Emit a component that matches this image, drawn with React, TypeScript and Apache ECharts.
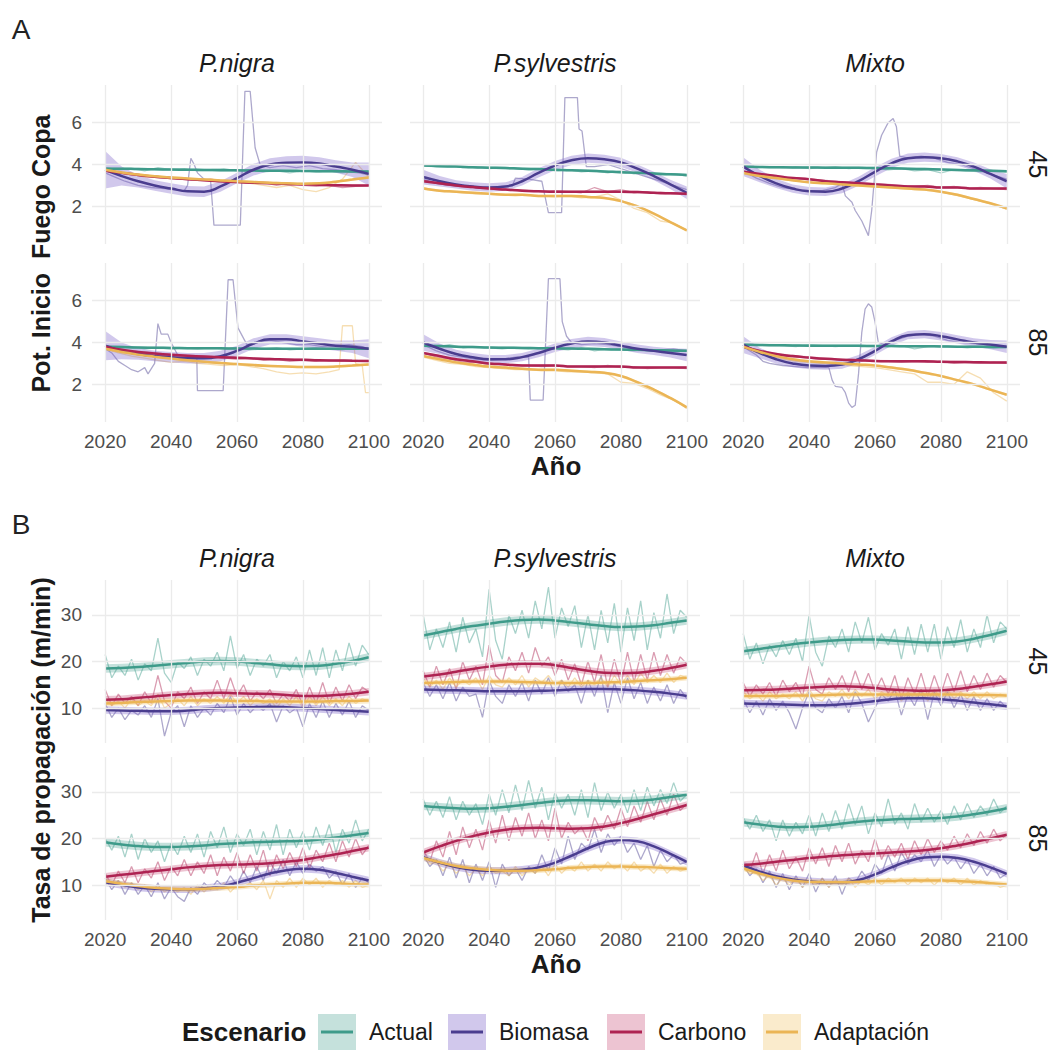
import React, { useEffect, useRef } from "react";
import * as echarts from "echarts";

const FONT = "'Liberation Sans', Arial, Helvetica, sans-serif";

const SCENARIOS = ["Actual", "Biomasa", "Carbono", "Adaptación"];
const SPECIES = ["P.nigra", "P.sylvestris", "Mixto"];
const RCP = ["45", "85"];
const LINE_COLORS = ["#3E9B8A", "#4A3D8F", "#AE2352", "#EBB555"];
const FILL_COLORS = ["rgba(62,155,138,0.3)", "rgba(122,98,201,0.35)", "rgba(194,58,106,0.3)", "rgba(240,192,96,0.32)"];

const YEARS_5 = [2020, 2025, 2030, 2035, 2040, 2045, 2050, 2055, 2060, 2065, 2070, 2075, 2080, 2085, 2090, 2095, 2100];
const YEARS_4 = [2020, 2024, 2028, 2032, 2036, 2040, 2044, 2048, 2052, 2056, 2060, 2064, 2068, 2072, 2076, 2080, 2084, 2088, 2092, 2096, 2100];
const YEARS_2 = [2020, 2022, 2024, 2026, 2028, 2030, 2032, 2034, 2036, 2038, 2040, 2042, 2044, 2046, 2048, 2050, 2052, 2054, 2056, 2058, 2060, 2062, 2064, 2066, 2068, 2070, 2072, 2074, 2076, 2078, 2080, 2082, 2084, 2086, 2088, 2090, 2092, 2094, 2096, 2098, 2100];
const X_TICKS = [2020, 2040, 2060, 2080, 2100];
const A_Y_TICKS = [2, 4, 6];
const B_Y_TICKS = [10, 20, 30];

// ---------- Section A : Pot. Inicio Fuego Copa ----------
// P.nigra 45
const a_ni45_raw_act = [3.85, 3.75, 3.8, 3.7, 3.85, 3.75, 3.8, 3.7, 3.75, 3.8, 3.7, 3.75, 3.65, 3.7, 3.6, 3.7, 3.65, 3.7, 3.6, 3.7, 3.65];
const a_ni45_raw_bio = [[2020, 3.6], [2023, 3.4], [2026, 3.2], [2030, 3.0], [2034, 2.9], [2038, 2.85], [2040, 2.8], [2044, 2.75], [2045, 3.0], [2046, 4.3], [2047, 4.0], [2048, 3.6], [2050, 3.3], [2052, 3.2], [2053, 1.1], [2061, 1.1], [2062.4, 7.5], [2064, 7.5], [2065.5, 4.8], [2067, 4.0], [2070, 3.85], [2074, 3.95], [2078, 3.85], [2082, 3.95], [2086, 3.8], [2090, 3.75], [2094, 3.65], [2097, 3.6], [2100, 3.5]];
const a_ni45_raw_car = [3.75, 3.6, 3.5, 3.45, 3.4, 3.35, 3.3, 3.25, 3.3, 3.2, 3.15, 3.1, 3.15, 3.0, 3.1, 3.0, 2.95, 3.0, 2.9, 2.95, 3.0];
const a_ni45_raw_ada = [3.8, 3.6, 3.55, 3.4, 3.45, 3.3, 3.35, 3.25, 3.3, 3.2, 3.15, 3.1, 3.0, 2.9, 3.0, 2.8, 2.7, 2.9, 3.3, 4.1, 3.4];
const a_ni45_sm_act = [3.8, 3.8, 3.78, 3.77, 3.76, 3.75, 3.74, 3.73, 3.72, 3.71, 3.7, 3.7, 3.69, 3.68, 3.68, 3.67, 3.67];
const a_ni45_sm_bio = [3.75, 3.45, 3.2, 3.0, 2.85, 2.72, 2.7, 2.95, 3.35, 3.75, 4.0, 4.08, 4.1, 4.05, 3.9, 3.75, 3.55];
const a_ni45_sm_car = [3.7, 3.6, 3.5, 3.42, 3.36, 3.3, 3.25, 3.2, 3.16, 3.13, 3.1, 3.07, 3.05, 3.03, 3.01, 3.0, 3.0];
const a_ni45_sm_ada = [3.75, 3.62, 3.52, 3.44, 3.38, 3.33, 3.28, 3.24, 3.2, 3.16, 3.13, 3.1, 3.08, 3.1, 3.18, 3.28, 3.38];
const a_ni45_se_bio = [0.9, 0.45, 0.3, 0.25, 0.25, 0.25, 0.25, 0.25, 0.25, 0.28, 0.3, 0.32, 0.32, 0.3, 0.3, 0.35, 0.55];

// P.sylvestris 45
const a_sy45_raw_act = [3.95, 3.9, 3.95, 3.85, 3.9, 3.8, 3.85, 3.8, 3.75, 3.8, 3.7, 3.75, 3.65, 3.7, 3.6, 3.7, 3.55, 3.6, 3.5, 3.55, 3.45];
const a_sy45_raw_bio = [[2020, 3.3], [2024, 3.1], [2028, 3.0], [2032, 2.95], [2036, 2.9], [2040, 2.9], [2044, 2.95], [2047, 2.95], [2048, 3.35], [2052, 3.3], [2056, 3.2], [2058, 1.7], [2062, 1.7], [2063, 7.2], [2066.8, 7.2], [2067.3, 5.7], [2068.2, 5.6], [2069.5, 3.9], [2072, 3.9], [2076, 4.0], [2080, 3.8], [2084, 3.6], [2088, 3.4], [2092, 3.2], [2096, 3.0], [2100, 2.8]];
const a_sy45_raw_car = [3.25, 3.1, 3.0, 2.95, 2.9, 2.85, 2.8, 2.8, 2.75, 2.7, 2.75, 2.7, 2.65, 2.9, 2.7, 2.8, 2.65, 2.7, 2.6, 2.65, 2.55];
const a_sy45_raw_ada = [2.9, 2.75, 2.7, 2.65, 2.6, 2.6, 2.55, 2.5, 2.55, 2.5, 2.45, 2.5, 2.4, 2.45, 2.6, 2.3, 1.9, 1.7, 1.3, 1.2, 0.85];
const a_sy45_sm_act = [3.95, 3.92, 3.9, 3.87, 3.85, 3.83, 3.8, 3.78, 3.75, 3.72, 3.7, 3.67, 3.63, 3.6, 3.57, 3.53, 3.5];
const a_sy45_sm_bio = [3.4, 3.2, 3.05, 2.95, 2.9, 2.95, 3.2, 3.6, 3.95, 4.2, 4.3, 4.25, 4.1, 3.8, 3.45, 3.05, 2.65];
const a_sy45_sm_car = [3.2, 3.1, 3.0, 2.92, 2.85, 2.8, 2.75, 2.72, 2.7, 2.7, 2.7, 2.7, 2.7, 2.68, 2.65, 2.62, 2.6];
const a_sy45_sm_ada = [2.85, 2.75, 2.7, 2.65, 2.6, 2.55, 2.55, 2.5, 2.5, 2.5, 2.45, 2.4, 2.25, 2.0, 1.65, 1.25, 0.85];
const a_sy45_se_bio = [0.35, 0.25, 0.2, 0.2, 0.2, 0.2, 0.2, 0.22, 0.22, 0.22, 0.22, 0.22, 0.22, 0.2, 0.2, 0.22, 0.3];

// Mixto 45
const a_mx45_raw_act = [3.9, 3.85, 3.9, 3.85, 3.9, 3.8, 3.85, 3.9, 3.8, 3.85, 3.8, 3.75, 3.8, 3.7, 3.75, 3.6, 3.75, 3.7, 3.65, 3.7, 3.65];
const a_mx45_raw_bio = [[2020, 3.7], [2024, 3.35], [2028, 3.1], [2032, 2.9], [2036, 2.8], [2040, 2.75], [2044, 2.75], [2048, 2.9], [2050, 3.1], [2051, 2.5], [2053, 2.2], [2054, 1.8], [2056, 1.3], [2058, 0.6], [2059, 1.8], [2060.5, 4.6], [2062, 5.4], [2064, 6.0], [2065.5, 6.2], [2066.5, 5.8], [2067.5, 4.4], [2070, 4.3], [2074, 4.4], [2078, 4.3], [2082, 4.1], [2086, 4.0], [2090, 3.8], [2094, 3.6], [2098, 3.4], [2100, 3.3]];
const a_mx45_raw_car = [3.7, 3.55, 3.5, 3.4, 3.35, 3.3, 3.25, 3.2, 3.15, 3.1, 3.1, 3.05, 3.0, 2.95, 3.0, 2.9, 2.95, 2.85, 2.9, 2.85, 2.8];
const a_mx45_raw_ada = [3.55, 3.45, 3.35, 3.3, 3.2, 3.15, 3.1, 3.05, 3.0, 3.0, 2.95, 2.9, 2.85, 2.8, 2.8, 2.7, 2.55, 2.4, 2.25, 2.1, 1.85];
const a_mx45_sm_act = [3.9, 3.88, 3.87, 3.86, 3.86, 3.85, 3.85, 3.84, 3.83, 3.82, 3.8, 3.78, 3.76, 3.74, 3.72, 3.7, 3.68];
const a_mx45_sm_bio = [3.9, 3.45, 3.1, 2.85, 2.72, 2.7, 2.85, 3.2, 3.65, 4.05, 4.3, 4.35, 4.3, 4.15, 3.9, 3.55, 3.2];
const a_mx45_sm_car = [3.65, 3.55, 3.45, 3.35, 3.3, 3.2, 3.15, 3.1, 3.05, 3.0, 2.95, 2.95, 2.9, 2.9, 2.85, 2.85, 2.85];
const a_mx45_sm_ada = [3.6, 3.45, 3.35, 3.25, 3.15, 3.1, 3.05, 3.0, 2.95, 2.9, 2.85, 2.8, 2.7, 2.55, 2.35, 2.15, 1.9];
const a_mx45_se_bio = [0.45, 0.3, 0.22, 0.2, 0.2, 0.2, 0.22, 0.22, 0.22, 0.22, 0.22, 0.22, 0.2, 0.2, 0.2, 0.22, 0.35];

// P.nigra 85
const a_ni85_raw_act = [3.85, 3.75, 3.8, 3.7, 3.75, 3.7, 3.75, 3.7, 3.75, 3.7, 3.75, 3.65, 3.7, 3.75, 3.65, 3.7, 3.75, 3.7, 3.65, 3.75, 3.7];
const a_ni85_raw_bio = [[2020, 3.7], [2022, 3.5], [2024, 3.1], [2026, 2.9], [2028, 2.7], [2030, 2.6], [2032, 2.8], [2033, 2.5], [2035, 3.0], [2036, 4.9], [2037, 4.4], [2039, 4.4], [2040, 4.0], [2042, 3.4], [2045, 3.35], [2047.8, 3.3], [2048, 1.7], [2055.8, 1.7], [2057.3, 7.0], [2058.8, 7.0], [2060.3, 4.7], [2063, 3.9], [2066, 4.0], [2070, 4.1], [2074, 4.0], [2078, 3.9], [2082, 3.9], [2086, 3.8], [2090, 3.85], [2094, 3.9], [2098, 3.8], [2100, 3.7]];
const a_ni85_raw_car = [3.8, 3.6, 3.5, 3.45, 3.4, 3.35, 3.35, 3.3, 3.3, 3.25, 3.2, 3.25, 3.15, 3.2, 3.1, 3.15, 3.1, 3.15, 3.1, 3.15, 3.1];
const a_ni85_raw_ada = [[2020, 3.7], [2024, 3.5], [2028, 3.35], [2032, 3.25], [2036, 3.15], [2040, 3.05], [2044, 3.1], [2048, 3.0], [2052, 2.95], [2056, 2.9], [2060, 2.95], [2064, 2.85], [2068, 2.75], [2072, 2.6], [2076, 2.5], [2080, 2.55], [2084, 2.5], [2088, 2.6], [2091, 2.7], [2092, 4.8], [2095, 4.8], [2096, 3.0], [2098, 2.9], [2099, 1.6], [2100, 1.6]];
const a_ni85_sm_act = [3.8, 3.78, 3.76, 3.75, 3.74, 3.73, 3.72, 3.72, 3.71, 3.71, 3.7, 3.7, 3.7, 3.7, 3.7, 3.7, 3.7];
const a_ni85_sm_bio = [3.85, 3.6, 3.45, 3.35, 3.3, 3.25, 3.25, 3.35, 3.6, 3.95, 4.15, 4.15, 4.05, 3.95, 3.85, 3.8, 3.7];
const a_ni85_sm_car = [3.8, 3.65, 3.55, 3.48, 3.42, 3.37, 3.33, 3.3, 3.27, 3.24, 3.21, 3.19, 3.17, 3.15, 3.14, 3.13, 3.12];
const a_ni85_sm_ada = [3.7, 3.55, 3.42, 3.32, 3.23, 3.15, 3.08, 3.02, 2.97, 2.92, 2.88, 2.85, 2.83, 2.83, 2.85, 2.9, 2.95];
const a_ni85_se_bio = [0.7, 0.4, 0.28, 0.25, 0.25, 0.25, 0.25, 0.25, 0.25, 0.25, 0.25, 0.25, 0.25, 0.25, 0.25, 0.3, 0.45];

// P.sylvestris 85
const a_sy85_raw_act = [3.85, 3.8, 3.9, 3.75, 3.8, 3.75, 3.7, 3.75, 3.7, 3.75, 3.7, 3.65, 3.75, 3.6, 3.7, 3.65, 3.6, 3.65, 3.6, 3.55, 3.6];
const a_sy85_raw_bio = [[2020, 3.9], [2024, 3.6], [2028, 3.4], [2032, 3.3], [2036, 3.2], [2040, 3.15], [2044, 3.2], [2048, 3.3], [2052, 3.3], [2052.5, 1.25], [2056.4, 1.25], [2058, 7.05], [2061.5, 7.05], [2062.2, 5.0], [2063.5, 4.3], [2065, 4.0], [2068, 3.9], [2072, 3.95], [2076, 3.9], [2080, 3.8], [2084, 3.7], [2088, 3.6], [2092, 3.65], [2096, 3.7], [2100, 3.6]];
const a_sy85_raw_car = [3.5, 3.3, 3.2, 3.05, 3.05, 2.95, 2.95, 2.9, 2.9, 2.85, 2.9, 2.85, 2.85, 2.8, 2.9, 2.8, 2.85, 2.75, 2.8, 2.8, 2.75];
const a_sy85_raw_ada = [3.3, 3.15, 3.0, 2.95, 2.85, 2.8, 2.75, 2.7, 2.7, 2.65, 2.65, 2.6, 2.6, 2.55, 2.5, 2.1, 2.05, 1.8, 1.5, 1.25, 0.85];
const a_sy85_sm_act = [3.85, 3.83, 3.8, 3.78, 3.76, 3.75, 3.74, 3.73, 3.72, 3.71, 3.7, 3.68, 3.66, 3.65, 3.63, 3.62, 3.6];
const a_sy85_sm_bio = [4.0, 3.7, 3.45, 3.3, 3.2, 3.2, 3.3, 3.5, 3.75, 3.95, 4.05, 4.0, 3.85, 3.7, 3.6, 3.5, 3.4];
const a_sy85_sm_car = [3.5, 3.35, 3.2, 3.1, 3.0, 2.95, 2.9, 2.9, 2.9, 2.85, 2.85, 2.85, 2.85, 2.8, 2.8, 2.8, 2.8];
const a_sy85_sm_ada = [3.35, 3.2, 3.05, 2.95, 2.85, 2.8, 2.75, 2.7, 2.7, 2.65, 2.6, 2.55, 2.4, 2.1, 1.75, 1.35, 0.9];
const a_sy85_se_bio = [0.4, 0.25, 0.2, 0.2, 0.2, 0.2, 0.2, 0.2, 0.2, 0.22, 0.22, 0.22, 0.2, 0.2, 0.2, 0.22, 0.3];

// Mixto 85
const a_mx85_raw_act = [3.9, 3.85, 3.9, 3.85, 3.8, 3.9, 3.85, 3.8, 3.85, 3.8, 3.85, 3.8, 3.85, 3.7, 3.8, 3.85, 3.8, 3.75, 3.8, 3.75, 3.8];
const a_mx85_raw_bio = [[2020, 3.8], [2024, 3.4], [2026, 3.1], [2028, 3.0], [2032, 2.9], [2036, 2.85], [2040, 2.8], [2044, 2.8], [2046, 2.8], [2047, 2.2], [2048, 1.9], [2050, 1.85], [2051, 1.6], [2052, 1.1], [2053, 0.9], [2054, 1.0], [2055, 2.5], [2056, 4.5], [2057, 5.6], [2058, 5.85], [2059, 5.7], [2060, 5.0], [2061, 4.0], [2063, 3.9], [2066, 4.1], [2070, 4.3], [2074, 4.4], [2078, 4.3], [2082, 4.1], [2086, 4.0], [2090, 3.95], [2094, 3.9], [2098, 3.85], [2100, 3.8]];
const a_mx85_raw_car = [3.8, 3.55, 3.45, 3.35, 3.3, 3.25, 3.2, 3.2, 3.15, 3.15, 3.1, 3.1, 3.05, 3.1, 3.05, 3.1, 3.0, 3.05, 3.0, 3.05, 3.0];
const a_mx85_raw_ada = [3.8, 3.5, 3.35, 3.2, 3.1, 3.05, 3.0, 2.95, 2.9, 2.85, 2.8, 2.7, 2.6, 2.5, 2.1, 2.1, 2.0, 2.6, 2.3, 1.6, 1.2];
const a_mx85_sm_act = [3.9, 3.88, 3.87, 3.86, 3.85, 3.85, 3.84, 3.84, 3.83, 3.83, 3.82, 3.82, 3.81, 3.8, 3.8, 3.79, 3.78];
const a_mx85_sm_bio = [3.9, 3.5, 3.2, 3.0, 2.9, 2.88, 2.95, 3.2, 3.6, 4.05, 4.35, 4.4, 4.3, 4.15, 4.0, 3.9, 3.8];
const a_mx85_sm_car = [3.8, 3.6, 3.45, 3.35, 3.28, 3.22, 3.18, 3.15, 3.12, 3.1, 3.1, 3.1, 3.08, 3.07, 3.06, 3.05, 3.05];
const a_mx85_sm_ada = [3.8, 3.55, 3.35, 3.2, 3.1, 3.05, 3.0, 2.95, 2.9, 2.8, 2.7, 2.55, 2.4, 2.2, 2.0, 1.75, 1.5];
const a_mx85_se_bio = [0.4, 0.25, 0.2, 0.18, 0.18, 0.18, 0.2, 0.2, 0.2, 0.2, 0.2, 0.2, 0.2, 0.2, 0.2, 0.22, 0.3];

const A_BAND = 0.06;

// ---------- Section B : Tasa de propagación ----------
// P.nigra 45
const b_ni45_raw_act = [21.5, 16.5, 19.0, 17.0, 20.5, 16.0, 19.5, 18.0, 25.0, 17.5, 15.5, 20.0, 18.5, 21.0, 17.0, 20.5, 19.0, 22.0, 18.0, 25.5, 18.5, 21.5, 17.0, 20.5, 19.0, 21.5, 16.5, 20.0, 18.0, 21.0, 16.5, 22.5, 17.0, 23.0, 16.5, 22.5, 18.0, 24.0, 19.0, 23.5, 21.5];
const b_ni45_raw_bio = [11.0, 8.0, 10.0, 7.5, 9.5, 8.5, 10.5, 8.0, 12.0, 4.0, 9.0, 10.5, 6.0, 10.5, 8.0, 10.0, 8.5, 11.0, 9.0, 12.5, 8.5, 11.0, 9.0, 10.5, 9.5, 11.0, 7.0, 10.5, 9.0, 10.0, 6.0, 11.0, 8.0, 11.5, 8.0, 11.0, 8.5, 11.5, 8.0, 10.5, 9.5];
const b_ni45_raw_car = [14.0, 10.5, 13.0, 11.0, 12.5, 10.5, 13.5, 11.0, 17.0, 11.5, 10.0, 13.5, 12.0, 14.5, 11.0, 13.5, 12.0, 16.0, 12.0, 16.5, 12.5, 15.0, 11.5, 13.5, 12.0, 14.0, 11.0, 13.0, 11.5, 14.0, 10.5, 14.5, 11.0, 15.5, 11.0, 14.5, 11.5, 15.0, 12.0, 14.5, 13.5];
const b_ni45_raw_ada = [12.0, 10.5, 11.5, 10.0, 12.0, 10.5, 11.5, 10.5, 13.0, 10.0, 11.0, 12.0, 10.5, 12.5, 10.5, 12.0, 11.0, 12.5, 11.0, 13.0, 11.0, 12.5, 10.5, 12.0, 11.0, 12.0, 10.0, 12.0, 10.5, 12.5, 10.0, 12.5, 10.5, 12.5, 10.5, 12.0, 10.5, 12.5, 11.0, 12.0, 11.5];
const b_ni45_sm_act = [18.5, 18.6, 18.8, 19.1, 19.4, 19.7, 20.0, 20.1, 20.0, 19.7, 19.4, 19.1, 19.0, 19.1, 19.5, 20.1, 20.9];
const b_ni45_sm_bio = [9.6, 9.5, 9.4, 9.3, 9.3, 9.5, 9.8, 10.0, 10.1, 10.2, 10.3, 10.2, 10.0, 9.8, 9.6, 9.4, 9.2];
const b_ni45_sm_car = [11.8, 11.9, 12.2, 12.5, 12.8, 13.0, 13.2, 13.3, 13.2, 13.1, 13.0, 12.8, 12.6, 12.6, 12.8, 13.1, 13.5];
const b_ni45_sm_ada = [11.0, 11.1, 11.3, 11.4, 11.5, 11.6, 11.6, 11.6, 11.5, 11.5, 11.4, 11.4, 11.4, 11.4, 11.5, 11.5, 11.6];

// P.sylvestris 45
const b_sy45_raw_act = [30.0, 22.5, 27.0, 23.0, 28.5, 22.0, 29.5, 24.0, 27.0, 21.0, 35.5, 24.5, 20.5, 30.0, 26.0, 31.0, 25.0, 33.0, 27.0, 36.0, 25.0, 31.5, 27.5, 32.0, 23.0, 30.0, 22.5, 31.0, 24.0, 32.5, 22.0, 31.5, 24.5, 33.0, 22.5, 30.5, 25.0, 34.5, 26.0, 31.0, 29.5];
const b_sy45_raw_bio = [15.5, 12.5, 15.0, 12.0, 15.5, 11.5, 14.5, 12.5, 13.0, 8.0, 16.0, 12.5, 11.0, 15.0, 12.5, 15.5, 11.5, 16.0, 13.0, 16.5, 12.5, 16.0, 13.5, 15.0, 11.0, 16.0, 12.5, 17.0, 9.0, 15.5, 11.0, 16.5, 12.0, 15.5, 11.0, 14.5, 11.5, 15.0, 11.0, 14.0, 12.0];
const b_sy45_raw_car = [18.0, 14.5, 19.0, 15.0, 18.5, 14.0, 20.0, 16.0, 19.0, 15.0, 23.5, 17.0, 15.5, 21.0, 18.0, 22.0, 17.5, 23.0, 19.0, 21.0, 17.0, 20.5, 16.0, 19.5, 15.0, 20.0, 15.5, 21.5, 14.5, 20.5, 15.0, 22.0, 15.5, 21.5, 16.0, 22.0, 17.0, 21.5, 17.5, 21.0, 19.5];
const b_sy45_raw_ada = [16.5, 14.5, 16.0, 14.0, 16.5, 14.5, 16.0, 15.0, 16.5, 14.0, 17.0, 15.0, 14.5, 16.5, 15.0, 17.0, 14.5, 16.5, 15.5, 17.0, 15.0, 16.0, 14.5, 16.5, 14.5, 16.0, 15.0, 16.5, 14.5, 17.0, 15.0, 17.0, 15.0, 17.5, 15.5, 17.0, 15.5, 17.5, 15.5, 17.0, 16.5];
const b_sy45_sm_act = [25.6, 26.3, 27.0, 27.6, 28.1, 28.6, 28.9, 29.0, 28.8, 28.4, 28.0, 27.6, 27.4, 27.5, 27.8, 28.3, 28.8];
const b_sy45_sm_bio = [14.0, 13.9, 13.8, 13.7, 13.6, 13.6, 13.6, 13.7, 13.8, 14.0, 14.1, 14.1, 14.0, 13.8, 13.5, 13.1, 12.6];
const b_sy45_sm_car = [16.8, 17.2, 17.8, 18.4, 18.9, 19.3, 19.5, 19.5, 19.2, 18.6, 18.0, 17.6, 17.5, 17.6, 18.0, 18.6, 19.3];
const b_sy45_sm_ada = [15.4, 15.5, 15.6, 15.7, 15.7, 15.7, 15.6, 15.5, 15.4, 15.4, 15.4, 15.5, 15.6, 15.8, 16.0, 16.2, 16.5];

// Mixto 45
const b_mx45_raw_act = [26.0, 20.5, 24.0, 19.5, 23.5, 21.0, 24.5, 21.5, 25.0, 20.0, 30.0, 22.0, 19.0, 25.5, 23.0, 27.0, 22.0, 28.5, 24.0, 29.5, 22.5, 26.0, 23.5, 27.0, 20.5, 27.5, 21.5, 28.0, 22.0, 28.0, 20.5, 27.5, 23.0, 29.0, 22.0, 27.0, 23.0, 30.0, 24.0, 28.5, 27.0];
const b_mx45_raw_bio = [12.0, 9.0, 11.5, 8.5, 12.0, 9.5, 11.5, 9.0, 5.5, 10.0, 13.5, 10.0, 9.0, 12.0, 10.0, 12.5, 9.0, 13.5, 11.0, 7.0, 10.0, 13.0, 11.5, 14.0, 8.5, 13.0, 10.5, 14.0, 7.5, 13.5, 10.5, 13.5, 10.0, 13.0, 9.5, 12.5, 9.5, 12.0, 9.5, 11.5, 10.0];
const b_mx45_raw_car = [15.5, 12.5, 15.0, 13.0, 15.5, 12.5, 16.0, 13.5, 15.5, 12.5, 19.0, 14.0, 13.0, 16.5, 14.0, 17.0, 13.5, 18.0, 14.0, 17.5, 13.5, 16.5, 13.0, 17.0, 12.0, 16.5, 13.0, 17.5, 12.5, 17.0, 13.0, 17.5, 13.5, 18.0, 13.5, 17.0, 14.0, 17.5, 14.5, 17.0, 15.5];
const b_mx45_raw_ada = [13.5, 12.0, 13.0, 11.5, 13.5, 12.0, 13.0, 12.0, 13.5, 11.5, 14.0, 12.0, 11.5, 13.5, 12.5, 14.0, 12.0, 14.0, 12.5, 14.0, 12.0, 13.5, 12.5, 14.0, 11.5, 13.5, 12.0, 14.0, 11.5, 14.0, 12.0, 14.0, 12.0, 13.5, 12.0, 13.5, 12.0, 13.5, 12.0, 13.0, 12.5];
const b_mx45_sm_act = [22.2, 22.7, 23.2, 23.7, 24.1, 24.4, 24.6, 24.7, 24.7, 24.5, 24.3, 24.1, 24.1, 24.3, 24.9, 25.7, 26.6];
const b_mx45_sm_bio = [11.0, 10.9, 10.8, 10.7, 10.6, 10.6, 10.8, 11.1, 11.5, 11.9, 12.1, 12.1, 11.9, 11.6, 11.2, 10.8, 10.4];
const b_mx45_sm_car = [13.8, 13.9, 14.0, 14.2, 14.4, 14.6, 14.7, 14.6, 14.3, 14.0, 13.8, 13.7, 13.8, 14.1, 14.6, 15.1, 15.7];
const b_mx45_sm_ada = [12.6, 12.6, 12.6, 12.7, 12.7, 12.8, 12.9, 12.9, 12.9, 12.9, 12.9, 12.9, 12.9, 12.9, 12.8, 12.8, 12.7];

// P.nigra 85
const b_ni85_raw_act = [20.0, 17.5, 20.5, 16.0, 21.0, 15.5, 20.0, 17.0, 19.5, 15.0, 19.0, 16.5, 20.5, 17.0, 21.0, 16.0, 21.5, 18.0, 22.5, 17.0, 21.0, 18.5, 22.0, 16.5, 21.5, 17.5, 23.0, 16.5, 22.0, 18.0, 21.5, 17.5, 22.5, 18.5, 23.0, 17.0, 22.0, 19.0, 24.0, 19.5, 22.0];
const b_ni85_raw_bio = [11.5, 9.0, 11.0, 8.0, 10.5, 8.0, 10.0, 7.5, 10.5, 7.0, 9.5, 7.5, 6.5, 9.5, 8.0, 10.5, 9.0, 11.0, 9.5, 12.0, 10.0, 13.0, 10.5, 14.0, 11.0, 15.0, 12.5, 15.5, 12.0, 15.0, 12.5, 14.5, 13.0, 14.0, 11.5, 13.0, 10.0, 12.5, 9.5, 11.5, 10.5];
const b_ni85_raw_car = [12.5, 10.0, 13.0, 10.5, 14.0, 10.5, 13.5, 11.5, 15.0, 11.0, 14.0, 12.0, 15.5, 12.0, 15.0, 12.5, 16.5, 12.0, 16.0, 13.0, 17.0, 12.5, 16.5, 13.0, 17.5, 12.0, 16.5, 13.5, 17.0, 14.0, 18.0, 13.5, 17.5, 15.0, 19.0, 15.0, 19.5, 16.0, 20.0, 16.5, 18.5];
const b_ni85_raw_ada = [11.5, 10.0, 11.0, 9.5, 10.5, 9.0, 10.0, 8.5, 10.0, 8.5, 9.5, 8.5, 9.5, 8.0, 10.0, 8.5, 10.0, 9.0, 10.5, 8.5, 10.0, 9.5, 10.5, 9.0, 11.0, 7.0, 11.0, 9.5, 11.5, 9.5, 11.5, 10.0, 11.5, 9.5, 11.0, 10.0, 11.0, 9.5, 11.0, 9.5, 10.0];
const b_ni85_sm_act = [19.2, 18.7, 18.4, 18.2, 18.2, 18.3, 18.5, 18.8, 19.0, 19.2, 19.3, 19.4, 19.5, 19.8, 20.2, 20.7, 21.2];
const b_ni85_sm_bio = [10.6, 10.0, 9.5, 9.2, 9.1, 9.1, 9.3, 9.7, 10.5, 11.5, 12.5, 13.2, 13.5, 13.3, 12.6, 11.8, 11.0];
const b_ni85_sm_car = [11.8, 12.2, 12.6, 13.0, 13.4, 13.8, 14.1, 14.3, 14.4, 14.5, 14.7, 15.0, 15.4, 16.0, 16.6, 17.3, 18.0];
const b_ni85_sm_ada = [10.8, 10.3, 9.8, 9.4, 9.2, 9.1, 9.2, 9.4, 9.6, 9.9, 10.1, 10.3, 10.5, 10.5, 10.4, 10.2, 10.1];

// P.sylvestris 85
const b_sy85_raw_act = [28.5, 25.0, 28.0, 24.5, 29.0, 24.0, 28.0, 25.0, 27.5, 23.0, 29.5, 25.0, 30.5, 25.5, 31.5, 26.0, 32.5, 26.5, 31.0, 24.0, 30.0, 26.5, 29.5, 25.0, 30.5, 24.5, 32.0, 26.0, 30.0, 26.5, 29.5, 25.5, 30.5, 26.0, 31.0, 27.0, 30.5, 27.5, 32.0, 28.0, 29.5];
const b_sy85_raw_bio = [16.5, 14.0, 15.5, 12.0, 16.0, 11.5, 15.5, 10.5, 14.5, 11.0, 15.0, 9.5, 14.5, 12.0, 13.5, 11.0, 14.0, 12.5, 16.5, 13.0, 18.0, 14.5, 20.5, 15.5, 19.0, 17.5, 22.0, 17.0, 21.0, 18.5, 20.5, 17.0, 19.0, 15.5, 18.5, 14.0, 17.5, 15.0, 16.5, 14.5, 15.0];
const b_sy85_raw_car = [17.5, 15.0, 19.5, 16.0, 21.5, 16.5, 22.5, 18.0, 22.0, 17.5, 24.0, 19.0, 25.0, 19.5, 24.5, 20.5, 25.5, 20.0, 24.0, 19.5, 26.5, 20.0, 23.5, 21.0, 22.5, 19.5, 24.5, 21.5, 25.0, 22.0, 26.5, 22.5, 27.0, 23.5, 28.0, 24.0, 28.5, 25.0, 29.5, 26.0, 27.5];
const b_sy85_raw_ada = [16.0, 14.5, 15.0, 13.0, 14.5, 12.5, 14.0, 12.0, 13.5, 12.0, 14.0, 12.5, 13.0, 12.0, 14.0, 12.0, 13.5, 12.5, 14.0, 12.0, 14.5, 12.5, 14.0, 13.0, 15.0, 13.0, 14.5, 13.0, 15.0, 13.5, 14.5, 13.0, 15.0, 13.0, 14.0, 12.5, 14.5, 12.5, 14.0, 13.0, 13.5];
const b_sy85_sm_act = [27.0, 26.7, 26.5, 26.4, 26.5, 26.8, 27.2, 27.6, 28.0, 28.2, 28.2, 28.1, 28.0, 28.1, 28.4, 28.9, 29.4];
const b_sy85_sm_bio = [16.0, 14.8, 13.9, 13.3, 13.1, 13.1, 13.3, 13.8, 14.8, 16.3, 17.9, 19.2, 19.7, 19.4, 18.3, 16.7, 15.0];
const b_sy85_sm_car = [17.0, 18.3, 19.5, 20.5, 21.3, 21.9, 22.2, 22.3, 22.2, 22.1, 22.2, 22.6, 23.3, 24.2, 25.2, 26.2, 27.2];
const b_sy85_sm_ada = [15.8, 14.9, 14.1, 13.6, 13.3, 13.1, 13.1, 13.2, 13.4, 13.7, 13.9, 14.0, 14.0, 13.9, 13.8, 13.6, 13.5];

// Mixto 85
const b_mx85_raw_act = [24.5, 22.0, 25.0, 21.5, 24.0, 19.5, 24.0, 20.5, 23.5, 21.0, 25.0, 20.5, 25.5, 21.5, 26.0, 22.0, 27.5, 23.0, 27.0, 21.0, 25.5, 22.5, 28.5, 23.0, 25.5, 22.0, 27.5, 23.5, 26.5, 23.5, 26.0, 23.0, 27.0, 24.0, 27.5, 24.5, 27.0, 25.0, 28.5, 25.5, 27.0];
const b_mx85_raw_bio = [14.5, 12.0, 13.5, 10.5, 13.0, 9.5, 12.5, 9.0, 12.0, 9.5, 12.5, 8.5, 11.5, 9.5, 12.0, 8.0, 11.5, 10.5, 13.0, 11.0, 14.5, 12.5, 16.5, 13.0, 17.0, 14.5, 16.5, 15.0, 17.5, 14.0, 16.5, 14.5, 16.0, 13.5, 15.5, 12.5, 14.5, 12.0, 14.0, 11.5, 12.5];
const b_mx85_raw_car = [14.5, 13.0, 17.0, 12.5, 16.5, 13.0, 17.5, 13.5, 16.0, 13.0, 18.0, 14.5, 18.0, 14.0, 18.5, 15.0, 19.0, 14.5, 17.5, 15.0, 20.0, 15.5, 18.5, 16.0, 19.0, 15.5, 19.5, 16.5, 20.0, 17.0, 19.5, 17.5, 20.5, 18.0, 21.0, 18.5, 21.5, 19.0, 22.0, 19.5, 21.0];
const b_mx85_raw_ada = [13.5, 12.5, 12.5, 11.0, 12.0, 10.0, 11.5, 10.0, 11.5, 9.5, 11.0, 10.0, 11.5, 9.5, 11.0, 10.0, 11.5, 9.5, 11.0, 10.0, 11.5, 10.0, 11.5, 10.5, 11.5, 10.0, 11.5, 10.5, 11.5, 10.0, 11.5, 10.5, 11.5, 10.0, 11.5, 10.0, 11.0, 10.0, 10.5, 9.5, 10.0];
const b_mx85_sm_act = [23.5, 23.0, 22.6, 22.4, 22.5, 22.8, 23.2, 23.6, 23.9, 24.1, 24.2, 24.3, 24.4, 24.7, 25.2, 25.8, 26.5];
const b_mx85_sm_bio = [14.2, 12.9, 11.9, 11.2, 10.8, 10.6, 10.6, 11.1, 12.3, 13.8, 15.1, 15.9, 16.1, 15.8, 15.0, 13.8, 12.4];
const b_mx85_sm_car = [14.3, 14.6, 15.0, 15.4, 15.8, 16.1, 16.4, 16.6, 16.8, 17.0, 17.2, 17.5, 17.9, 18.5, 19.2, 20.0, 20.8];
const b_mx85_sm_ada = [13.6, 12.5, 11.6, 11.0, 10.7, 10.6, 10.6, 10.7, 10.8, 10.9, 11.0, 11.0, 11.0, 10.9, 10.7, 10.4, 10.1];

const B_BAND = [0.9, 0.8, 0.8, 0.6];

// ---------- layout ----------
const COL_LEFT = [92, 410, 730];
const COL_W = 290;
const ROW_TOP = [[85, 263], [580, 757]];
const ROW_H = [159, 163];
const Y_RANGE = [[0.2, 7.8, 0.2], [2.5, 37.5, 0.5]];
const LEGEND_KEY_X = [318, 448, 607, 763];

type Panel = { sec: number; row: number; col: number; raw: any[]; sm: number[][]; se?: number[] };

const PANELS: Panel[] = [
  { sec: 0, row: 0, col: 0, raw: [a_ni45_raw_act, a_ni45_raw_bio, a_ni45_raw_car, a_ni45_raw_ada], sm: [a_ni45_sm_act, a_ni45_sm_bio, a_ni45_sm_car, a_ni45_sm_ada], se: a_ni45_se_bio },
  { sec: 0, row: 0, col: 1, raw: [a_sy45_raw_act, a_sy45_raw_bio, a_sy45_raw_car, a_sy45_raw_ada], sm: [a_sy45_sm_act, a_sy45_sm_bio, a_sy45_sm_car, a_sy45_sm_ada], se: a_sy45_se_bio },
  { sec: 0, row: 0, col: 2, raw: [a_mx45_raw_act, a_mx45_raw_bio, a_mx45_raw_car, a_mx45_raw_ada], sm: [a_mx45_sm_act, a_mx45_sm_bio, a_mx45_sm_car, a_mx45_sm_ada], se: a_mx45_se_bio },
  { sec: 0, row: 1, col: 0, raw: [a_ni85_raw_act, a_ni85_raw_bio, a_ni85_raw_car, a_ni85_raw_ada], sm: [a_ni85_sm_act, a_ni85_sm_bio, a_ni85_sm_car, a_ni85_sm_ada], se: a_ni85_se_bio },
  { sec: 0, row: 1, col: 1, raw: [a_sy85_raw_act, a_sy85_raw_bio, a_sy85_raw_car, a_sy85_raw_ada], sm: [a_sy85_sm_act, a_sy85_sm_bio, a_sy85_sm_car, a_sy85_sm_ada], se: a_sy85_se_bio },
  { sec: 0, row: 1, col: 2, raw: [a_mx85_raw_act, a_mx85_raw_bio, a_mx85_raw_car, a_mx85_raw_ada], sm: [a_mx85_sm_act, a_mx85_sm_bio, a_mx85_sm_car, a_mx85_sm_ada], se: a_mx85_se_bio },
  { sec: 1, row: 0, col: 0, raw: [b_ni45_raw_act, b_ni45_raw_bio, b_ni45_raw_car, b_ni45_raw_ada], sm: [b_ni45_sm_act, b_ni45_sm_bio, b_ni45_sm_car, b_ni45_sm_ada] },
  { sec: 1, row: 0, col: 1, raw: [b_sy45_raw_act, b_sy45_raw_bio, b_sy45_raw_car, b_sy45_raw_ada], sm: [b_sy45_sm_act, b_sy45_sm_bio, b_sy45_sm_car, b_sy45_sm_ada] },
  { sec: 1, row: 0, col: 2, raw: [b_mx45_raw_act, b_mx45_raw_bio, b_mx45_raw_car, b_mx45_raw_ada], sm: [b_mx45_sm_act, b_mx45_sm_bio, b_mx45_sm_car, b_mx45_sm_ada] },
  { sec: 1, row: 1, col: 0, raw: [b_ni85_raw_act, b_ni85_raw_bio, b_ni85_raw_car, b_ni85_raw_ada], sm: [b_ni85_sm_act, b_ni85_sm_bio, b_ni85_sm_car, b_ni85_sm_ada] },
  { sec: 1, row: 1, col: 1, raw: [b_sy85_raw_act, b_sy85_raw_bio, b_sy85_raw_car, b_sy85_raw_ada], sm: [b_sy85_sm_act, b_sy85_sm_bio, b_sy85_sm_car, b_sy85_sm_ada] },
  { sec: 1, row: 1, col: 2, raw: [b_mx85_raw_act, b_mx85_raw_bio, b_mx85_raw_car, b_mx85_raw_ada], sm: [b_mx85_sm_act, b_mx85_sm_bio, b_mx85_sm_car, b_mx85_sm_ada] },
];

function toPairs(years: number[], vals: any[]) {
  if (Array.isArray(vals[0])) return vals;
  return vals.map((v: number, i: number) => [years[i], v]);
}

function textEl(text: string, x: number, y: number, size: number, opts: any = {}) {
  return {
    type: "text",
    x,
    y,
    rotation: opts.rotation || 0,
    silent: true,
    style: {
      text,
      fill: opts.fill || "#1A1A1A",
      fontSize: size,
      fontFamily: FONT,
      fontWeight: opts.bold ? "bold" : "normal",
      fontStyle: opts.italic ? "italic" : "normal",
      textAlign: opts.align || "center",
      align: opts.align || "center",
      textVerticalAlign: "middle",
      verticalAlign: "middle",
    },
  };
}

function buildOption() {
  const grids: any[] = [];
  const xAxes: any[] = [];
  const yAxes: any[] = [];
  const series: any[] = [];

  PANELS.forEach((p, i) => {
    const top = ROW_TOP[p.sec][p.row];
    const h = ROW_H[p.sec];
    grids.push({ left: COL_LEFT[p.col], top, width: COL_W, height: h, containLabel: false, outerBoundsMode: "none" });
    const yTicks = p.sec === 0 ? A_Y_TICKS : B_Y_TICKS;
    const [ymin, ymax, yint] = Y_RANGE[p.sec];
    xAxes.push({
      gridIndex: i,
      type: "value",
      min: 2016,
      max: 2104,
      interval: 4,
      axisLine: { show: false },
      axisTick: { show: false },
      splitLine: { show: false },
      axisLabel: {
        show: p.row === 1,
        margin: 10,
        color: "#4D4D4D",
        fontSize: 19,
        fontFamily: FONT,
        formatter: (v: number) => {
          const t = X_TICKS.find((k) => Math.abs(k - v) < 1e-6);
          return t !== undefined ? String(t) : "";
        },
      },
    });
    yAxes.push({
      gridIndex: i,
      type: "value",
      min: ymin,
      max: ymax,
      interval: yint,
      axisLine: { show: false },
      axisTick: { show: false },
      splitLine: { show: false },
      axisLabel: {
        show: p.col === 0,
        margin: 10,
        color: "#4D4D4D",
        fontSize: 19,
        fontFamily: FONT,
        formatter: (v: number) => {
          const t = yTicks.find((k) => Math.abs(k - v) < 1e-6);
          return t !== undefined ? String(t) : "";
        },
      },
    });

    // grid lines
    series.push({
      type: "line",
      xAxisIndex: i,
      yAxisIndex: i,
      data: [[X_TICKS[0], yTicks[0]]],
      symbol: "none",
      lineStyle: { opacity: 0 },
      silent: true,
      z: 1,
      markLine: {
        silent: true,
        symbol: ["none", "none"],
        label: { show: false },
        lineStyle: { color: "#EBEBEB", width: 1.3, type: "solid" },
        emphasis: { disabled: true },
        data: [...X_TICKS.map((v) => ({ xAxis: v })), ...yTicks.map((v) => ({ yAxis: v }))],
      },
    });

    // raw lines
    p.raw.forEach((r, k) => {
      series.push({
        type: "line",
        name: SCENARIOS[k],
        xAxisIndex: i,
        yAxisIndex: i,
        data: toPairs(p.sec === 0 ? YEARS_4 : YEARS_2, r),
        symbol: "none",
        showSymbol: false,
        silent: true,
        lineStyle: { color: LINE_COLORS[k], width: 1.3, opacity: 0.45 },
        z: 2,
      });
    });

    // ribbons (custom polygons) + smooth lines
    p.sm.forEach((s, k) => {
      const se = (j: number) => (p.sec === 0 ? (k === 1 && p.se ? p.se[j] : A_BAND) : B_BAND[k]);
      const lo = s.map((v, j) => v - se(j));
      const hi = s.map((v, j) => v + se(j));
      const fill = FILL_COLORS[k];
      series.push({
        type: "custom",
        xAxisIndex: i,
        yAxisIndex: i,
        silent: true,
        z: 3,
        data: YEARS_5.map((y, j) => [y, lo[j], hi[j]]),
        encode: { x: 0, y: [1, 2] },
        renderItem: (params: any, api: any) => {
          if (params.dataIndex !== 0) return null;
          const pts: number[][] = [];
          for (let j = 0; j < YEARS_5.length; j++) pts.push(api.coord([YEARS_5[j], hi[j]]));
          for (let j = YEARS_5.length - 1; j >= 0; j--) pts.push(api.coord([YEARS_5[j], lo[j]]));
          return {
            type: "polygon",
            shape: { points: pts },
            style: { fill, stroke: "none" },
          };
        },
      });
      series.push({
        type: "line",
        xAxisIndex: i,
        yAxisIndex: i,
        data: YEARS_5.map((y, j) => [y, s[j]]),
        symbol: "none",
        smooth: 0.5,
        silent: true,
        lineStyle: { color: LINE_COLORS[k], width: 2.5 },
        z: 4,
      });
    });
  });

  const graphics: any[] = [];
  graphics.push(textEl("A", 21, 29, 28, { fill: "#222" }));
  graphics.push(textEl("B", 21, 524, 28, { fill: "#222" }));
  [0, 1].forEach((sec) => {
    const top0 = ROW_TOP[sec][0];
    const top1 = ROW_TOP[sec][1];
    const h = ROW_H[sec];
    SPECIES.forEach((sp, c) => {
      graphics.push(textEl(sp, COL_LEFT[c] + COL_W / 2, top0 - 22, 25, { italic: true }));
    });
    RCP.forEach((r, ri) => {
      const t = ROW_TOP[sec][ri];
      graphics.push(textEl(r, 1038, t + h / 2, 25, { rotation: -Math.PI / 2 }));
    });
    const midY = (top0 + top1 + h) / 2;
    graphics.push(
      textEl(sec === 0 ? "Pot. Inicio  Fuego Copa" : "Tasa de propagación (m/min)", 41, midY, 25, {
        bold: true,
        rotation: Math.PI / 2,
      })
    );
    graphics.push(textEl("Año", COL_LEFT[0] + (COL_LEFT[2] + COL_W - COL_LEFT[0]) / 2, top1 + h + 44, 26, { bold: true }));
  });

  // legend
  const legY = 1032;
  graphics.push(textEl("Escenario", 182, legY, 26, { bold: true, align: "left" }));
  SCENARIOS.forEach((s, k) => {
    const kx = LEGEND_KEY_X[k];
    graphics.push({
      type: "rect",
      silent: true,
      shape: { x: kx, y: legY - 18, width: 38, height: 36 },
      style: { fill: FILL_COLORS[k], stroke: "none" },
    });
    graphics.push({
      type: "line",
      silent: true,
      shape: { x1: kx + 3, y1: legY, x2: kx + 35, y2: legY },
      style: { stroke: LINE_COLORS[k], lineWidth: 3 },
    });
    graphics.push(textEl(s, kx + 51, legY, 23, { align: "left" }));
  });

  return {
    animation: false,
    backgroundColor: "#FFFFFF",
    grid: grids,
    xAxis: xAxes,
    yAxis: yAxes,
    series,
    graphic: { elements: graphics },
  };
}

export default function App() {
  const ref = useRef<HTMLDivElement>(null);
  useEffect(() => {
    if (!ref.current) return;
    const chart = echarts.init(ref.current, null, { renderer: "svg" });
    chart.setOption(buildOption() as any);
    return () => chart.dispose();
  }, []);
  return (
    <div
      ref={ref}
      style={{ position: "absolute", left: 0, top: 0, width: 1059, height: 1050, background: "#FFFFFF" }}
    />
  );
}
